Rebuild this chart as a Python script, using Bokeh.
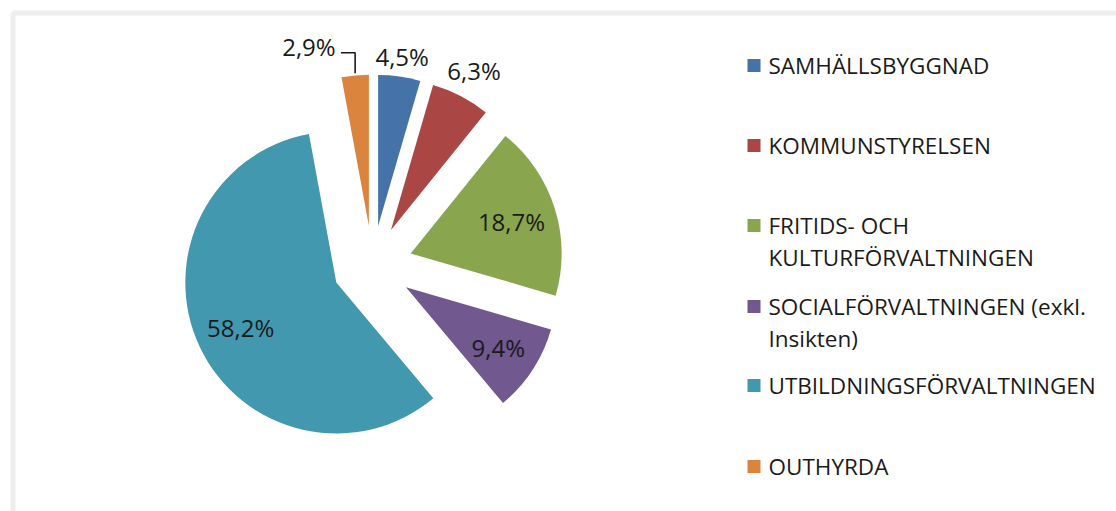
import math
from bokeh.plotting import figure
from bokeh.models import Range1d, ColumnDataSource
from bokeh.core.properties import value
from bokeh.embed import file_html
from bokeh.resources import INLINE

# ---- data ----
categories = [
    "SAMHÄLLSBYGGNAD",
    "KOMMUNSTYRELSEN",
    "FRITIDS- OCH\nKULTURFÖRVALTNINGEN",
    "SOCIALFÖRVALTNINGEN (exkl.\nInsikten)",
    "UTBILDNINGSFÖRVALTNINGEN",
    "OUTHYRDA",
]
shares = [4.5, 6.3, 18.7, 9.4, 58.2, 2.9]
colors = ["#4572A7", "#AA4643", "#89A54E", "#71588F", "#4198AF", "#DB843D"]

# ---- layout / style ----
W, H = 1116, 511
CX, CY = 372, 511 - 265      # pie centre (data coords)
R = 151                      # radius
EXPLODE = 40                 # explode distance
label_factor = [1.13, 1.19, 0.70, 0.73, 0.70, 1.25]
label_shift_deg = [0, 0, 0, 0, 0, -13.3]
legend_y_screen = [65, 145, 225, 306, 385, 466]
LEG_X = 747
LINE_H = 32
FONT = "Open Sans"


def sy(y):
    return H - y


p = figure(width=W, height=H, x_range=Range1d(0, W), y_range=Range1d(0, H),
           output_backend="svg", toolbar_location=None, min_border=0)
p.axis.visible = False
p.grid.visible = False
p.outline_line_color = None
p.background_fill_color = "white"
p.border_fill_color = "white"

# light grey frame
p.quad(left=[12.5], right=[1140], top=[sy(12.5)], bottom=[-30],
       fill_color=None, line_color="#eeeeee", line_width=5)

total = sum(shares)
cum = 0.0
xs, ys, starts, ends, lx, ly, labels = [], [], [], [], [], [], []
tips = []
for i, s in enumerate(shares):
    a = cum / total
    b = (cum + s) / total
    st = math.pi / 2 - 2 * math.pi * a
    en = math.pi / 2 - 2 * math.pi * b
    mid = (st + en) / 2
    x0 = CX + EXPLODE * math.cos(mid)
    y0 = CY + EXPLODE * math.sin(mid)
    xs.append(x0); ys.append(y0); starts.append(st); ends.append(en)
    tips.append((x0, y0, mid))
    la = mid + math.radians(-label_shift_deg[i])
    lx.append(x0 + label_factor[i] * R * math.cos(la))
    ly.append(y0 + label_factor[i] * R * math.sin(la))
    labels.append(f"{s:.1f}".replace(".", ",") + "%")
    cum += s

src = ColumnDataSource(dict(x=xs, y=ys, start=starts, end=ends, color=colors))
p.wedge(x="x", y="y", radius=R, start_angle="start", end_angle="end",
        direction="clock", fill_color="color", line_color=None, source=src)

p.text(x=lx, y=ly, text=labels, text_font=value(FONT), text_font_size="24px",
       text_align="center", text_baseline="middle", text_color="#1a1a1a")

# leader line for the small OUTHYRDA slice
ox, oy, omid = tips[5]
ex = ox + R * math.cos(omid)
ey = oy + R * math.sin(omid)
p.line(x=[lx[5] + 32, ex, ex], y=[ly[5] - 6, ly[5] - 6, ey + 2],
       line_color="#1a1a1a", line_width=1.6)

# legend
sq_x, sq_y, tx, ty, tt = [], [], [], [], []
for i, name in enumerate(categories):
    yc = sy(legend_y_screen[i])
    sq_x.append(LEG_X + 6.5)
    sq_y.append(yc)
    for j, line in enumerate(name.split("\n")):
        tx.append(LEG_X + 21)
        ty.append(yc - j * LINE_H)
        tt.append(line)
p.rect(x=sq_x, y=sq_y, width=13, height=13, fill_color=colors, line_color=None)
p.text(x=tx, y=ty, text=tt, text_font=value(FONT), text_font_size="22.5px",
       text_align="left", text_baseline="middle", text_color="#1a1a1a")

open("out.html", "w").write(file_html(p, INLINE))
